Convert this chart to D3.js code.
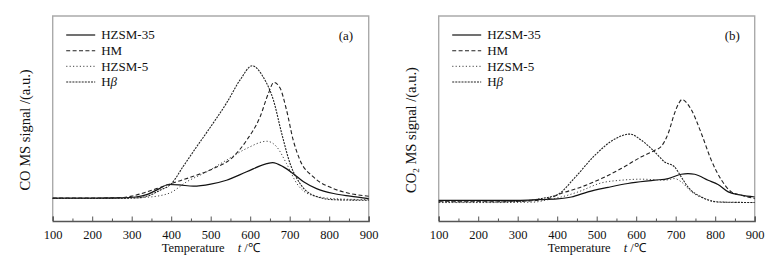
<!DOCTYPE html>
<html><head><meta charset="utf-8">
<script src="https://cdn.jsdelivr.net/npm/d3@7"></script>
<style>
html,body{margin:0;padding:0;background:#fff;}
svg{display:block;font-family:"Liberation Serif","Times New Roman",serif;}
svg text{font-family:"Liberation Serif","Times New Roman",serif;}
</style></head>
<body>
<svg id="chart" width="777" height="263"></svg>
<script>
// ---------- data ----------
const seriesNames = ["HZSM-35", "HM", "HZSM-5", "H\u03B2"];
const xTicks = [100, 200, 300, 400, 500, 600, 700, 800, 900];
const xMinorTicks = [150, 250, 350, 450, 550, 650, 750, 850];

// Panel (a): CO signal
const aT_HZSM35 = [100, 200, 280, 310, 340, 370, 393, 420, 456, 500, 540, 591, 642, 657, 684, 709, 735, 768, 811, 853, 900];
const aV_HZSM35 = [11.2, 11.2, 11.3, 11.7, 13.0, 15.8, 17.8, 17.6, 17.0, 18.0, 19.9, 24.0, 28.0, 28.5, 26.4, 23.1, 19.1, 15.8, 13.4, 12.1, 10.9];
const aT_HM = [100, 200, 280, 304, 335, 363, 401, 456, 507, 557, 591, 625, 646, 660, 676, 692, 709, 726, 760, 811, 853, 900];
const aV_HM = [11.2, 11.2, 11.5, 12.3, 14.0, 15.8, 18.3, 21.8, 25.6, 31.3, 39.4, 50.8, 62.2, 67.6, 64.7, 54.1, 39.4, 29.7, 21.5, 15.8, 13.4, 12.1];
const aT_HZSM5 = [100, 200, 300, 340, 370, 397, 439, 490, 540, 591, 642, 667, 692, 718, 751, 811, 900];
const aV_HZSM5 = [11.0, 11.0, 11.2, 11.6, 12.3, 13.7, 19.1, 24.0, 29.7, 35.4, 38.9, 36.2, 28.0, 18.3, 12.9, 10.9, 10.4];
const aT_HB = [100, 200, 300, 330, 372, 401, 430, 460, 500, 540, 575, 605, 633, 659, 680, 701, 726, 760, 811, 900];
const aV_HB = [11.0, 11.0, 11.2, 11.7, 15.0, 18.3, 26.5, 35.0, 46.0, 57.5, 69.0, 75.7, 70.2, 58.8, 42.5, 28.0, 18.3, 12.5, 10.4, 10.1];

// Panel (b): CO2 signal
const bT_HZSM35 = [100, 200, 300, 351, 400, 436, 478, 529, 579, 647, 681, 714, 731, 748, 782, 807, 833, 866, 900];
const bV_HZSM35 = [10.1, 10.1, 10.1, 10.4, 10.8, 11.7, 14.2, 16.4, 18.3, 19.9, 20.7, 22.8, 23.1, 22.8, 19.9, 17.8, 14.2, 12.6, 11.7];
const bT_HM = [100, 250, 330, 377, 410, 461, 512, 562, 613, 647, 664, 681, 697, 708, 716, 726, 740, 765, 790, 816, 841, 866, 900];
const bV_HM = [9.6, 9.6, 9.8, 10.9, 13.4, 16.6, 20.7, 25.6, 31.3, 34.5, 36.5, 42.7, 52.5, 57.5, 59.3, 58.0, 54.1, 42.7, 29.7, 19.9, 14.2, 12.6, 10.9];
const bT_HZSM5 = [100, 250, 340, 377, 410, 453, 512, 562, 613, 672, 697, 714, 740, 782, 816, 900];
const bV_HZSM5 = [9.0, 9.0, 9.2, 10.4, 11.7, 14.2, 18.6, 19.9, 20.4, 19.9, 20.7, 19.1, 14.2, 10.4, 9.1, 9.0];
const bT_HB = [100, 250, 309, 360, 402, 444, 495, 546, 584, 613, 647, 672, 697, 714, 731, 765, 807, 900];
const bV_HB = [9.3, 9.3, 9.6, 11.0, 13.0, 21.0, 32.0, 40.0, 42.4, 39.4, 33.7, 28.8, 26.4, 21.5, 16.6, 11.7, 9.3, 9.0];

// ---------- drawing ----------
const svg = d3.select("#chart");
const FONT = '"Liberation Serif","Times New Roman",serif';
const styles = [
  {stroke:"#111", width:1.2, dash:null},
  {stroke:"#222", width:1.1, dash:"4,2.4"},
  {stroke:"#444", width:1.0, dash:"1.2,2.2"},
  {stroke:"#222", width:1.1, dash:"2,1.1"}
];

function panel(opts){
  const {left, right, top, bottom, tag, ylabel, data} = opts;
  const g = svg.append("g");
  const x = d3.scaleLinear().domain([100, 900]).range([left, right]);
  const y = d3.scaleLinear().domain([0, 100]).range([bottom, top]);

  // frame
  g.append("path")
    .attr("d", `M${left},${bottom}V${top}H${right}V${bottom}`)
    .attr("fill","none").attr("stroke","#aaa").attr("stroke-width",1.4);

  // x axis
  const ax = g.append("g").attr("transform",`translate(0,${bottom})`)
    .call(d3.axisBottom(x).tickValues(xTicks).tickSize(-4.5).tickPadding(9).tickFormat(d3.format("d")));
  ax.attr("font-family", FONT);
  ax.select(".domain").attr("stroke","#555").attr("stroke-width",1.3);
  ax.selectAll(".tick line").attr("stroke","#555");
  ax.selectAll(".tick text").attr("font-size",12.5).attr("fill","#111").attr("font-family", FONT);
  g.append("g").attr("transform",`translate(0,${bottom})`)
    .call(d3.axisBottom(x).tickValues(xMinorTicks).tickSize(-2.5).tickFormat(""))
    .call(s=>s.select(".domain").remove())
    .selectAll(".tick line").attr("stroke","#555");

  // x title
  const tt = g.append("text").attr("y", 252).attr("font-size",12.5).attr("fill","#111");
  tt.append("tspan").attr("x", left+109).text("Temperature");
  tt.append("tspan").attr("x", left+185).attr("font-style","italic").text("t");
  tt.append("tspan").text(" /\u2103");

  // y label
  const yl = g.append("text")
    .attr("transform",`translate(${left-23},130) rotate(-90)`)
    .attr("text-anchor","middle").attr("font-size",14.5).attr("fill","#111");
  ylabel(yl);

  // curves
  const line = d3.line().x(d=>x(d[0])).y(d=>y(d[1])).curve(d3.curveMonotoneX);
  data.forEach((s,i)=>{
    const pts = s.t.map((t,j)=>[t, s.v[j]]);
    g.append("path").attr("d", line(pts)).attr("fill","none")
      .attr("stroke", styles[i].stroke).attr("stroke-width", styles[i].width)
      .attr("stroke-dasharray", styles[i].dash);
  });

  // legend
  const lx0 = left + 13.5, lx1 = left + 42.5, rows = [35, 50.7, 66.3, 82];
  seriesNames.forEach((name,i)=>{
    g.append("line").attr("x1",lx0).attr("x2",lx1).attr("y1",rows[i]).attr("y2",rows[i])
      .attr("stroke", styles[i].stroke).attr("stroke-width", styles[i].width)
      .attr("stroke-dasharray", styles[i].dash);
    const t = g.append("text").attr("x", lx1+6).attr("y", rows[i]+4.3).attr("font-size",13).attr("fill","#111");
    if (i === 3) {
      t.append("tspan").text("H");
      t.append("tspan").attr("font-style","italic").text("\u03B2");
    } else t.text(name);
  });

  g.append("text").attr("x", right-30).attr("y", 39.5).attr("font-size",13).attr("fill","#111").text(tag);
}

panel({left:52.7, right:368.7, top:16, bottom:221, tag:"(a)",
  ylabel: t => t.text("CO MS signal /(a.u.)"),
  data:[{t:aT_HZSM35,v:aV_HZSM35},{t:aT_HM,v:aV_HM},{t:aT_HZSM5,v:aV_HZSM5},{t:aT_HB,v:aV_HB}]});

panel({left:438.7, right:754.7, top:16, bottom:221, tag:"(b)",
  ylabel: t => {
    t.append("tspan").text("CO");
    t.append("tspan").attr("font-size",9).attr("dy",3).text("2");
    t.append("tspan").attr("dy",-3).text(" MS signal /(a.u.)");
  },
  data:[{t:bT_HZSM35,v:bV_HZSM35},{t:bT_HM,v:bV_HM},{t:bT_HZSM5,v:bV_HZSM5},{t:bT_HB,v:bV_HB}]});
</script>
</body></html>
